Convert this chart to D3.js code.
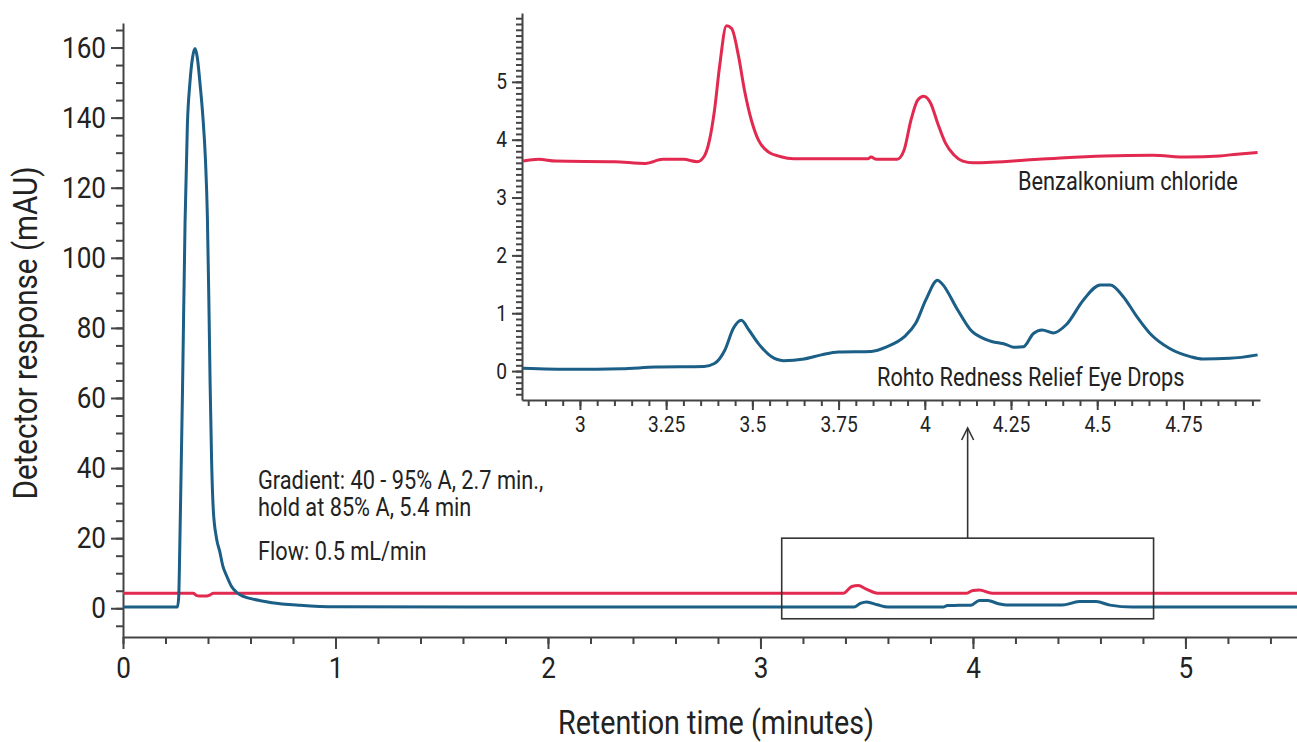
<!DOCTYPE html>
<html>
<head>
<meta charset="utf-8">
<script src="https://cdn.jsdelivr.net/npm/d3@7"></script>
<style>
  body { margin: 0; background: #fff; }
  text { font-family: "Roboto", "Liberation Sans", sans-serif; fill: #222; }
  .axis path, .axis line { stroke: #444; stroke-width: 2; }
  .axis text { fill: #222; }
</style>
</head>
<body>
<svg id="chart" width="1297" height="742"></svg>
<script>
// ---- data ----
// main trace, Rohto Redness Relief Eye Drops: [minutes, mAU]
const mainBlue = [
  [0, 0.35], [0.256, 0.35], [0.262, 3], [0.268, 20], [0.28, 62], [0.292, 110], [0.303, 138],
  [0.315, 150], [0.327, 157], [0.339, 159.7], [0.35, 157], [0.362, 150], [0.375, 141],
  [0.388, 128], [0.397, 112], [0.404, 88], [0.41, 64], [0.417, 42], [0.425, 28],
  [0.44, 20], [0.456, 16], [0.47, 12], [0.488, 9.2], [0.51, 6.3], [0.535, 4.5],
  [0.57, 3.3], [0.612, 2.6], [0.7, 1.6], [0.833, 0.85], [1.0, 0.4], [3.44, 0.35],
  [3.47, 1.4], [3.5, 1.8], [3.55, 1.0], [3.6, 0.35], [3.86, 0.35], [3.88, 0.8],
  [3.99, 0.85], [4.03, 2.2], [4.07, 2.2], [4.12, 1.3], [4.16, 0.9], [4.42, 0.9],
  [4.5, 1.9], [4.58, 1.9], [4.645, 0.9], [4.75, 0.35], [5.53, 0.35]
];
// main trace, Benzalkonium chloride
const mainRed = [
  [0, 4.3], [0.33, 4.3], [0.345, 3.7], [0.36, 3.5], [0.395, 3.5], [0.41, 3.8], [0.425, 4.3],
  [3.39, 4.3], [3.43, 6.2], [3.46, 6.5], [3.5, 5.4], [3.55, 4.3], [3.97, 4.3], [4.0, 5.1],
  [4.03, 5.2], [4.09, 4.3], [5.53, 4.3]
];

// inset (zoomed 2.83 - 4.97 min)
const insetRed = [
  [2.835, 3.63], [2.88, 3.66], [2.93, 3.63], [3.1, 3.62], [3.19, 3.59], [3.24, 3.66],
  [3.3, 3.66], [3.34, 3.62], [3.36, 3.71], [3.376, 4.0], [3.39, 4.5], [3.405, 5.27],
  [3.425, 5.97], [3.44, 5.92], [3.46, 5.44], [3.477, 4.86], [3.497, 4.34],
  [3.517, 4.0], [3.546, 3.79], [3.58, 3.71], [3.62, 3.67], [3.835, 3.67],
  [3.844, 3.7], [3.86, 3.66], [3.92, 3.66], [3.94, 3.82], [3.96, 4.34], [3.98, 4.69],
  [3.997, 4.75], [4.017, 4.63], [4.037, 4.29], [4.06, 3.94], [4.084, 3.74],
  [4.11, 3.63], [4.14, 3.6], [4.33, 3.66], [4.52, 3.72], [4.66, 3.73], [4.76, 3.7],
  [4.855, 3.72], [4.905, 3.75], [4.965, 3.78]
];
const insetBlue = [
  [2.835, 0.05], [2.977, 0.03], [3.12, 0.04], [3.22, 0.07], [3.36, 0.08], [3.39, 0.13],
  [3.42, 0.36], [3.445, 0.74], [3.468, 0.88], [3.49, 0.71], [3.517, 0.48],
  [3.555, 0.25], [3.59, 0.18], [3.65, 0.21], [3.7, 0.28], [3.75, 0.33], [3.845, 0.34],
  [3.89, 0.42], [3.94, 0.59], [3.974, 0.83], [4.003, 1.23], [4.037, 1.57],
  [4.05, 1.51], [4.095, 1.06], [4.133, 0.71], [4.18, 0.54], [4.24, 0.45],
  [4.257, 0.41], [4.286, 0.42], [4.315, 0.65], [4.34, 0.71], [4.373, 0.66],
  [4.41, 0.8], [4.46, 1.23], [4.509, 1.49], [4.538, 1.49], [4.575, 1.29],
  [4.615, 0.94], [4.653, 0.65], [4.71, 0.39], [4.77, 0.25], [4.806, 0.21],
  [4.884, 0.22], [4.965, 0.28]
];

const mainXTicks = [0, 1, 2, 3, 4, 5];
const mainYTicks = [0, 20, 40, 60, 80, 100, 120, 140, 160];
const insetXTicks = [3, 3.25, 3.5, 3.75, 4, 4.25, 4.5, 4.75];
const insetYTicks = [0, 1, 2, 3, 4, 5];

const notes = ["Gradient: 40 - 95% A, 2.7 min.,", "hold at 85% A, 5.4 min", "Flow: 0.5 mL/min"];
const zoomBox = {x0: 3.1, x1: 4.85, y0: -3, y1: 20};

// ---- setup ----
const svg = d3.select("#chart");
const RED = "#e2294f";
const BLUE = "#1b5e86";
const fmt = d3.format("~g");

const x = d3.scaleLinear().domain([0, 5.525]).range([123, 1297]);
const y = d3.scaleLinear().domain([-8.2, 167]).range([637, 23]);

const ix = d3.scaleLinear().domain([2.832, 4.972]).range([522, 1260]);
const iy = d3.scaleLinear().domain([-0.5, 6.19]).range([400, 13]);

// ---- main axes ----
svg.append("g").attr("class", "axis")
    .attr("transform", `translate(0,${y.range()[0]})`)
    .call(d3.axisBottom(x).tickValues(d3.range(0, 28).map(i => i * 0.2)).tickSize(7).tickSizeOuter(0).tickFormat(""));
svg.append("g").attr("class", "axis")
    .attr("transform", `translate(0,${y.range()[0]})`)
    .call(d3.axisBottom(x).tickValues(mainXTicks).tickSize(12).tickSizeOuter(0).tickPadding(8).tickFormat(fmt))
    .call(g => g.selectAll("text").attr("font-size", 30))
    .call(g => g.select(".domain").remove());

svg.append("g").attr("class", "axis")
    .attr("transform", `translate(${x.range()[0]},0)`)
    .call(d3.axisLeft(y).tickValues(d3.range(-1, 34).map(i => i * 5)).tickSize(7).tickSizeOuter(0).tickFormat(""));
svg.append("g").attr("class", "axis")
    .attr("transform", `translate(${x.range()[0]},0)`)
    .call(d3.axisLeft(y).tickValues(mainYTicks).tickSize(12).tickSizeOuter(0).tickPadding(5).tickFormat(fmt))
    .call(g => g.selectAll("text").attr("font-size", 30))
    .call(g => g.select(".domain").remove());

// axis titles
svg.append("text")
    .attr("transform", `translate(37,333) rotate(-90)`)
    .attr("text-anchor", "middle")
    .attr("font-size", 34)
    .text("Detector response (mAU)");

svg.append("text")
    .attr("x", 716).attr("y", 734)
    .attr("text-anchor", "middle")
    .attr("font-size", 33)
    .text("Retention time (minutes)");

// ---- main traces ----
const mainLine = d3.line()
    .x(d => x(d[0]))
    .y(d => y(d[1]))
    .curve(d3.curveMonotoneX);

svg.append("path").datum(mainRed)
    .attr("d", mainLine).attr("fill", "none")
    .attr("stroke", RED).attr("stroke-width", 3);
svg.append("path").datum(mainBlue)
    .attr("d", mainLine).attr("fill", "none")
    .attr("stroke", BLUE).attr("stroke-width", 3);

// method notes
svg.selectAll("text.note")
  .data(notes)
    .enter()
  .append("text")
    .attr("class", "note")
    .attr("x", 258)
    .attr("y", (d, i) => [489, 516, 560][i])
    .attr("font-size", 25)
    .text(d => d);

// zoom box and arrow
svg.append("rect")
    .attr("x", x(zoomBox.x0)).attr("y", y(zoomBox.y1))
    .attr("width", x(zoomBox.x1) - x(zoomBox.x0))
    .attr("height", y(zoomBox.y0) - y(zoomBox.y1))
    .attr("fill", "none").attr("stroke", "#333").attr("stroke-width", 1.6);

const arrowX = x((zoomBox.x0 + zoomBox.x1) / 2);
svg.append("line")
    .attr("x1", arrowX).attr("x2", arrowX)
    .attr("y1", y(zoomBox.y1)).attr("y2", 428)
    .attr("stroke", "#333").attr("stroke-width", 1.6);
svg.append("path")
    .attr("d", `M${arrowX - 6},${440} L${arrowX},${428} L${arrowX + 6},${440}`)
    .attr("fill", "none").attr("stroke", "#333").attr("stroke-width", 1.6);

// ---- inset ----
const inset = svg.append("g").attr("id", "inset");

inset.append("g").attr("class", "axis")
    .attr("transform", `translate(0,${iy.range()[0]})`)
    .call(d3.axisBottom(ix).tickValues(d3.range(57, 100).map(i => i * 0.05)).tickSize(6).tickSizeOuter(0).tickFormat(""));
inset.append("g").attr("class", "axis")
    .attr("transform", `translate(0,${iy.range()[0]})`)
    .call(d3.axisBottom(ix).tickValues(insetXTicks).tickSize(10).tickSizeOuter(0).tickPadding(6).tickFormat(fmt))
    .call(g => g.selectAll("text").attr("font-size", 22))
    .call(g => g.select(".domain").remove());

inset.append("g").attr("class", "axis")
    .attr("transform", `translate(${ix.range()[0]},0)`)
    .call(d3.axisLeft(iy).tickValues(d3.range(-4, 62).map(i => i / 10)).tickSize(6).tickSizeOuter(0).tickFormat(""));
inset.append("g").attr("class", "axis")
    .attr("transform", `translate(${ix.range()[0]},0)`)
    .call(d3.axisLeft(iy).tickValues(insetYTicks).tickSize(10).tickSizeOuter(0).tickPadding(5).tickFormat(fmt))
    .call(g => g.selectAll("text").attr("font-size", 22))
    .call(g => g.select(".domain").remove());

const insetLine = d3.line()
    .x(d => ix(d[0]))
    .y(d => iy(d[1]))
    .curve(d3.curveMonotoneX);

inset.append("path").datum(insetRed)
    .attr("d", insetLine).attr("fill", "none")
    .attr("stroke", RED).attr("stroke-width", 3);
inset.append("path").datum(insetBlue)
    .attr("d", insetLine).attr("fill", "none")
    .attr("stroke", BLUE).attr("stroke-width", 3);

inset.append("text")
    .attr("x", 1018).attr("y", 190)
    .attr("font-size", 25)
    .text("Benzalkonium chloride");
inset.append("text")
    .attr("x", 877).attr("y", 386)
    .attr("font-size", 25)
    .text("Rohto Redness Relief Eye Drops");

// condensed look: squeeze every label horizontally
svg.selectAll("text").each(function() {
  const len = this.getComputedTextLength();
  d3.select(this)
    .attr("textLength", len * 0.87)
    .attr("lengthAdjust", "spacingAndGlyphs");
});
</script>
</body>
</html>
